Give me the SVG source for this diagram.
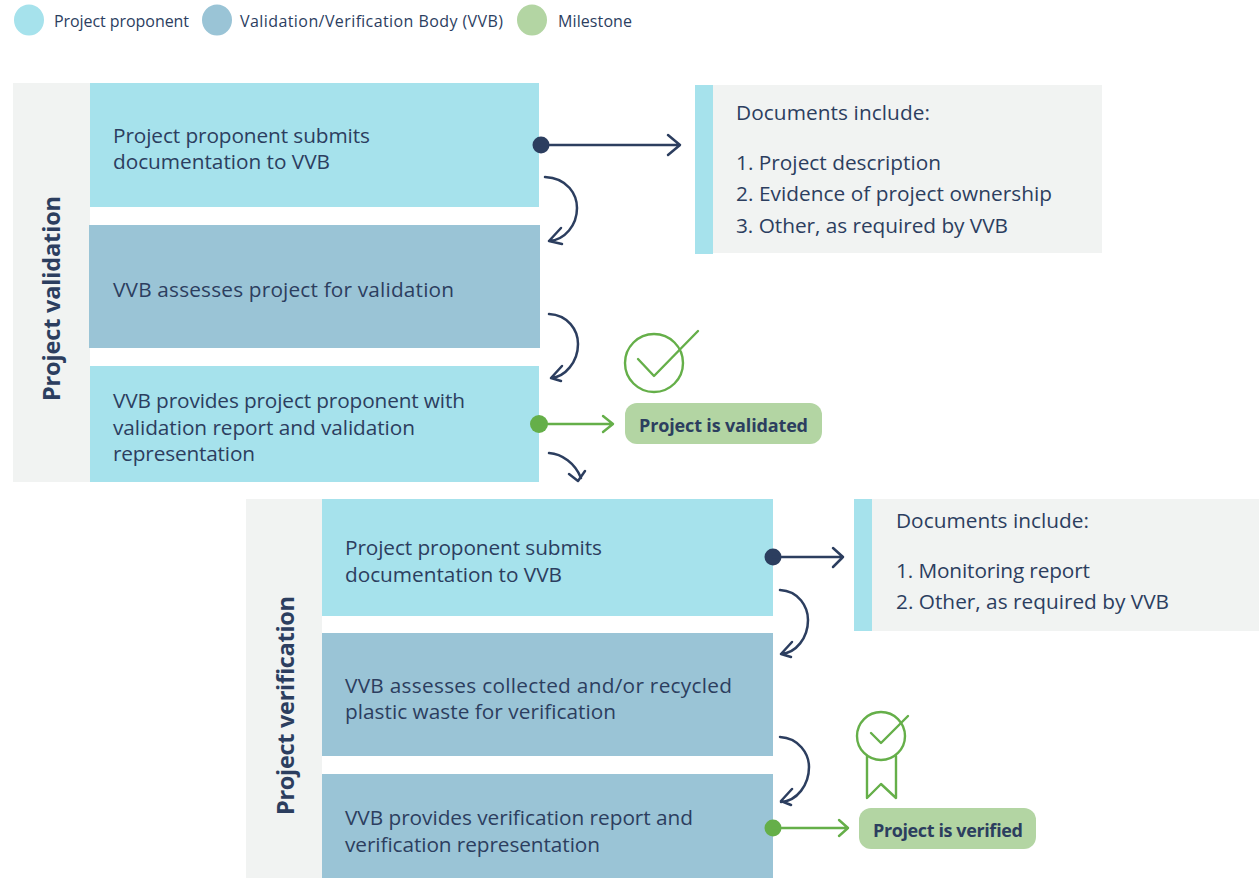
<svg xmlns="http://www.w3.org/2000/svg" width="1259" height="878" viewBox="0 0 1259 878">
<style>
text{font-family:"Open Sans","Liberation Sans",sans-serif;fill:#2c3e5f}
.b{font-size:20.8px}
.l{font-size:16px}
.h{font-size:23.5px;font-weight:700}
.m{font-size:18px;font-weight:700}
.c{fill:none;stroke:#2c3e5f;stroke-width:2.5;stroke-linecap:round;stroke-linejoin:round}
.g{fill:none;stroke:#65af49;stroke-width:2.4;stroke-linecap:round;stroke-linejoin:round}
.p{fill:#a6e2ec}.v{fill:#9ac4d6}.s{fill:#f1f3f2}.ms{fill:#b3d5a3}
</style>
<g id="legend">
<ellipse class="p" cx="29" cy="20" rx="15" ry="15.5"/><text class="l" x="54" y="27" textLength="135">Project proponent</text>
<ellipse class="v" cx="217" cy="20" rx="15" ry="15.5"/><text class="l" x="240" y="27" textLength="263">Validation/Verification Body (VVB)</text>
<ellipse class="ms" cx="532" cy="20" rx="15" ry="15.5"/><text class="l" x="558" y="27" textLength="74">Milestone</text>
</g>
<g id="validation-band"><rect class="s" x="13" y="83" width="77" height="399"/><text class="h" transform="translate(60 401) rotate(-90)" textLength="205">Project validation</text></g>
<g id="n1"><rect class="p" x="90" y="83" width="449" height="124"/><text class="b" x="113" y="143" textLength="257">Project proponent submits</text><text class="b" x="113" y="169" textLength="217">documentation to VVB</text></g>
<g id="n2"><rect class="v" x="89" y="225" width="451" height="123"/><text class="b" x="113" y="297" textLength="341">VVB assesses project for validation</text></g>
<g id="n3"><rect class="p" x="90" y="366" width="449" height="116"/><text class="b" x="113" y="408" textLength="352">VVB provides project proponent with</text><text class="b" x="113" y="435" textLength="302">validation report and validation</text><text class="b" x="113" y="461" textLength="142">representation</text></g>
<g id="docs1"><rect class="s" x="695" y="85" width="407" height="168"/><rect class="p" x="695" y="85" width="18" height="169"/><text class="b" x="736" y="120" textLength="194">Documents include:</text><text class="b" x="736" y="170" textLength="205">1. Project description</text><text class="b" x="736" y="201" textLength="316">2. Evidence of project ownership</text><text class="b" x="736" y="233" textLength="272">3. Other, as required by VVB</text></g>
<g id="milestone1"><rect class="ms" x="625" y="403" width="197" height="41" rx="12"/><text class="m" x="639" y="432" textLength="169">Project is validated</text></g>
<g id="check1"><circle class="g" cx="654" cy="363" r="29"/><path class="g" d="M638 359 L654 376 L698 331"/></g>
<g id="verification-band"><rect class="s" x="246" y="499" width="76" height="379"/><text class="h" transform="translate(294 815) rotate(-90)" textLength="219">Project verification</text></g>
<g id="n4"><rect class="p" x="322" y="499" width="451" height="117"/><text class="b" x="345" y="555" textLength="257">Project proponent submits</text><text class="b" x="345" y="582" textLength="217">documentation to VVB</text></g>
<g id="n5"><rect class="v" x="322" y="633" width="451" height="123"/><text class="b" x="345" y="693" textLength="387">VVB assesses collected and/or recycled</text><text class="b" x="345" y="719" textLength="271">plastic waste for verification</text></g>
<g id="n6"><rect class="v" x="322" y="774" width="451" height="104"/><text class="b" x="345" y="825" textLength="348">VVB provides verification report and</text><text class="b" x="345" y="852" textLength="255">verification representation</text></g>
<g id="docs2"><rect class="s" x="854" y="499" width="405" height="132"/><rect class="p" x="854" y="499" width="18" height="132"/><text class="b" x="896" y="528" textLength="193">Documents include:</text><text class="b" x="896" y="578" textLength="194">1. Monitoring report</text><text class="b" x="896" y="609" textLength="273">2. Other, as required by VVB</text></g>
<g id="milestone2"><rect class="ms" x="859" y="808" width="177" height="41" rx="12"/><text class="m" x="873" y="837" textLength="150">Project is verified</text></g>
<g id="badge"><circle class="g" cx="881" cy="736" r="24"/><path class="g" d="M871 733 L881 743 L908 716"/><path class="g" d="M867 756 V798 L881 784 L896 798 V756"/></g>
<g id="connectors">
<circle cx="541" cy="145" r="8.5" fill="#2c3e5f"/><path class="c" d="M541 145 H679 M668 135 L680 145 L668 155"/>
<path class="c" d="M545 177 C568 178 577 195 577 208 C577 225 565 240 549 241 M561 228 L549 241 L562 244"/>
<path class="c" d="M549 314 C568 315 578 330 578 344 C578 362 565 377 551 378 M562 366 L551 378 L561 381"/>
<path class="c" d="M549 453 C562 454 575 463 581 478 M569 474 L578 481 L585 471"/>
<circle cx="539" cy="424" r="9" fill="#65af49"/><path class="g" d="M539 424 H612 M603 416 L613 424 L603 432"/>
<circle cx="773" cy="557" r="8.5" fill="#2c3e5f"/><path class="c" d="M773 557 H843 M833 548 L843 557 L833 567"/>
<path class="c" d="M780 590 C799 591 808 607 808 620 C808 638 796 653 781 654 M792 642 L781 654 L791 657"/>
<path class="c" d="M780 737 C799 738 809 754 809 767 C809 785 797 801 781 802 M792 789 L781 801 L791 805"/>
<circle cx="773" cy="828" r="8.5" fill="#65af49"/><path class="g" d="M773 828 H848 M839 820 L848 828 L839 836"/>
</g>
</svg>
